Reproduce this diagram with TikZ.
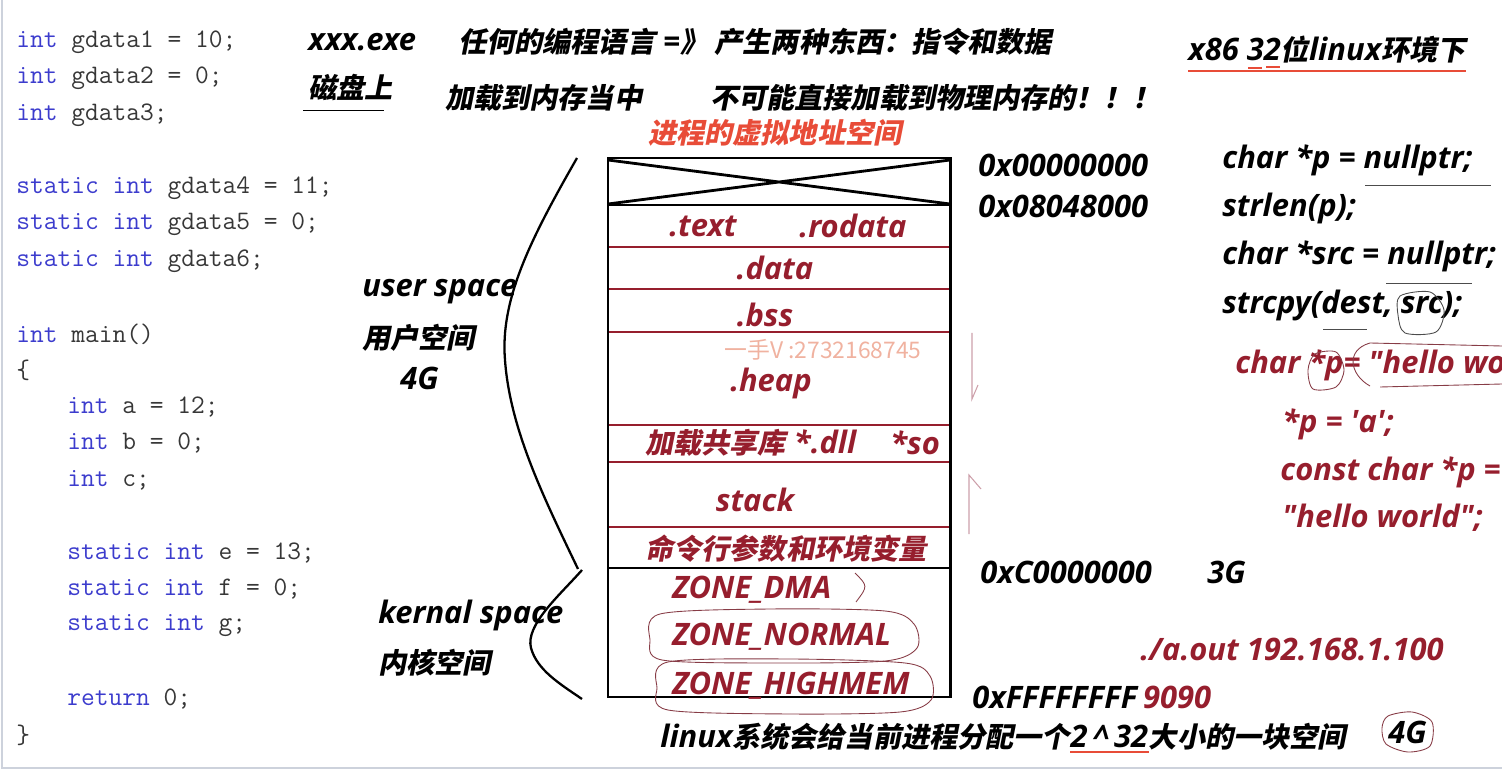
\documentclass[tikz,border=0pt]{standalone}
\usepackage{fontspec}
\setmonofont{Latin Modern Mono}
\newfontfamily\latfont{Open Sans}
\newfontfamily\zhfont{Noto Sans CJK SC Bold}[FakeSlant=0.2]
\newfontfamily\wmfont{Noto Sans CJK SC}
\usetikzlibrary{positioning}

\definecolor{kwblue}{RGB}{60,60,205}
\definecolor{codegrey}{RGB}{55,55,55}
\definecolor{segred}{RGB}{150,30,45}
\definecolor{titlered}{RGB}{232,76,56}
\definecolor{inkred}{RGB}{135,60,70}
\definecolor{markpink}{RGB}{205,160,170}
\definecolor{wmpink}{RGB}{240,178,160}
\definecolor{framegrey}{RGB}{205,210,220}

\newcommand\notefont{\latfont\bfseries\itshape\fontsize{17.6}{20}\selectfont}
\newcommand\zh[1]{{\zhfont\fontsize{16}{20}\selectfont #1}}
\newcommand\kw[1]{\textcolor{kwblue}{#1}}

\begin{document}
\begin{tikzpicture}[x=0.02cm, y=-0.02cm,
    code/.style={anchor=west, inner sep=0pt, text=codegrey, font=\ttfamily\fontsize{15.2}{18}\selectfont},
    note/.style={anchor=west, inner sep=0pt, font=\notefont},
    seglabel/.style={inner sep=0pt, text=segred, font=\notefont},
    segline/.style={segred, line width=1.6pt},
    brace/.style={line width=1.3pt},
    hand/.style={inkred, line width=0.5pt},
    penmark/.style={markpink, line width=0.6pt}]
    \useasboundingbox (0,0) rectangle (1502,770);
    \clip (0,0) rectangle (1502,770);

    % code panel
    \draw[framegrey, line width=1pt] (2,0) -- (2,768) -- (1502,768);
    \node[code] (g1) at (16,42) {\kw{int} gdata1 = 10;};
    \node[code] (g2) at (16,78) {\kw{int} gdata2 = 0;};
    \node[code] (g3) at (16,115) {\kw{int} gdata3;};
    \node[code] (g4) at (16,188) {\kw{static} \kw{int} gdata4 = 11;};
    \node[code] (g5) at (16,224) {\kw{static} \kw{int} gdata5 = 0;};
    \node[code] (g6) at (16,261) {\kw{static} \kw{int} gdata6;};
    \node[code] (mn) at (16,334) {\kw{int} main()};
    \node[code] (ob) at (16,370) {\{};
    \node[code] (la) at (67,407) {\kw{int} a = 12;};
    \node[code] (lb) at (67,443) {\kw{int} b = 0;};
    \node[code] (lc) at (67,480) {\kw{int} c;};
    \node[code] (se) at (67,553) {\kw{static} \kw{int} e = 13;};
    \node[code] (sf) at (67,589) {\kw{static} \kw{int} f = 0;};
    \node[code] (sg) at (67,626) {\kw{static} \kw{int} g;};
    \node[code] (rt) at (67,699) {\kw{return} 0;};
    \node[code] (cb) at (16,735) {\}};

    % notes on top
    \node[note] (exe) at (308,42) {xxx.exe};
    \node[note] (lang) at (458,42) {\zh{任何的编程语言} =\zh{》 产生两种东西：指令和数据}};
    \node[note] (disk) at (308,88) {\zh{磁盘上}};
    \draw[line width=0.5pt] (303,110) -- (384,110);
    \node[note] (load) at (445,98) {\zh{加载到内存当中}};
    \node[note] (phys) at (710,98) {\zh{不可能直接加载到物理内存的！！！}};
    \node[note, text=titlered] (vas) at (648,133) {\zh{进程的虚拟地址空间}};
    \node[note] (env) at (1188,50) {x86 32\zh{位}linux\zh{环境下}};
    \draw[titlered, line width=1.4pt] ([yshift=-4pt]env.south west) -- ([yshift=-4pt]env.south east);
    \draw[titlered, line width=1.6pt] (1248,68) -- (1262,68) (1266,67) -- (1280,67);

    % address space
    \coordinate (tl) at (608,158);
    \coordinate (br) at (950,697);
    \draw[line width=1.6pt] (608,160) -- (950,204) (608,204) -- (950,160);
    \foreach \y in {247,289,332,425,462,527}
        \draw[segline] (608,\y) -- (950,\y);
    \draw[line width=1.6pt] (608,205) -- (950,205) (608,568) -- (950,568);
    \draw[line width=1.7pt] (tl) rectangle (br);

    \node[seglabel] (text) at (703,226) {.text};
    \node[seglabel] (rodata) at (853,226) {.rodata};
    \node[seglabel] (data) at (775,268) {.data};
    \node[seglabel] (bss) at (765,315) {.bss};
    \node[inner sep=0pt, text=wmpink, font=\wmfont\fontsize{13}{15}\selectfont] (wm) at (823,350) {一手V :2732168745};
    \node[seglabel] (heap) at (771,383) {.heap};
    \node[seglabel, anchor=west] (dll) at (645,443) {\zh{加载共享库} *.dll};
    \node[seglabel, anchor=west] (so) at (890,443) {*so};
    \node[seglabel] (stack) at (755,500) {stack};
    \node[seglabel] (args) at (786,549) {\zh{命令行参数和环境变量}};
    \node[seglabel, anchor=west] (dma) at (672,590) {ZONE\_DMA};
    \node[seglabel, anchor=west] (normal) at (672,637) {ZONE\_NORMAL};
    \node[seglabel, anchor=west] (high) at (672,686) {ZONE\_HIGHMEM};
    \draw[hand] (855,573) .. controls (868,586) .. (856,602);
    \draw[hand] plot[smooth cycle] coordinates {(660,614) (770,609) (885,611) (914,624) (917,648) (885,661) (770,663) (662,660) (650,640)};
    \draw[hand] plot[smooth cycle] coordinates {(668,662) (790,659) (905,663) (930,676) (931,700) (900,712) (790,714) (668,710) (657,688)};

    % user / kernel braces
    \coordinate (ustop) at (577,158);
    \coordinate (usbot) at (578,569);
    \coordinate (kstop) at (582,570);
    \coordinate (ksbot) at (582,699);
    \draw[brace] (ustop) .. controls (530,240) and (500,300) .. (505,360)
        .. controls (510,430) and (545,500) .. (usbot);
    \draw[brace] (kstop) .. controls (560,595) and (525,625) .. (531,648)
        .. controls (537,670) and (560,684) .. (ksbot);
    \node[note] (user) at (362,292) {user space};
    \node[note] (userzh) at (362,338) {\zh{用户空间}};
    \node[note] (user4g) at (400,378) {4G};
    \node[note] (kern) at (378,615) {kernal space};
    \node[note] (kernzh) at (378,663) {\zh{内核空间}};

    % addresses
    \node[note] (a0) at (978,165) {0x00000000};
    \node[note] (a8) at (978,206) {0x08048000};
    \node[note] (ac) at (980,572) {0xC0000000};
    \node[note] (g3g) at (1207,572) {3G};
    \node[note] (af) at (972,697) {0xFFFFFFFF};
    \node[note, text=segred, right=3pt of af] (port) {9090};
    \node[note, text=segred] (aout) at (1140,649) {./a.out 192.168.1.100};
    \draw[penmark] (972,333) -- (972,399) -- (978,385);
    \draw[penmark] (981,489) -- (969,475) -- (969,534);

    % pointer examples
    \node[note] (p1) at (1222,160) {char *p = nullptr;};
    \node[note] (p2) at (1222,208) {strlen(p);};
    \node[note] (p3) at (1222,256) {char *src = nullptr;};
    \node[note] (p4) at (1222,305) {strcpy(dest, src);};
    \draw[hand, black!70] (1365,185) -- (1491,185);
    \draw[hand, black!70] (1386,283) -- (1472,283);
    \draw[hand, black!70] (1323,329) -- (1367,329);
    \draw[hand, black!70] plot[smooth cycle] coordinates {(1400,296) (1430,292) (1444,310) (1436,332) (1405,333) (1398,315)};
    \node[note, text=segred] (h1) at (1235,365) {char *p= "hello world";};
    \node[note, text=segred] (h2) at (1282,424) {*p = \textquotesingle a\textquotesingle;};
    \node[note, text=segred] (h3) at (1280,472) {const char *p =};
    \node[note, text=segred] (h4) at (1282,518) {"hello world";};
    \draw[hand] plot[smooth cycle] coordinates {(1315,354) (1336,352) (1344,370) (1336,387) (1313,389) (1308,370)};
    \draw[hand] (1370,386) .. controls (1350,375) and (1345,350) .. (1370,343) -- (1502,346);
    \draw[hand] (1380,387) -- (1502,384);

    % bottom line
    \node[note] (alloc) at (660,737) {linux\zh{系统会给当前进程分配一个}};
    \node[note, anchor=base west] (pow) at (alloc.base east) {2\,\textasciicircum\,32};
    \node[note, anchor=base west] (alloc2) at (pow.base east) {\zh{大小的一块空间}};
    \draw[titlered, line width=1.4pt] ([yshift=-2pt]pow.south west) -- ([yshift=-2pt]pow.south east);
    \node[note] (all4g) at (1388,732) {4G};
    \draw[hand] plot[smooth cycle] coordinates {(1388,716) (1412,712) (1432,722) (1430,746) (1408,752) (1386,744) (1382,728)};
\end{tikzpicture}
\end{document}
